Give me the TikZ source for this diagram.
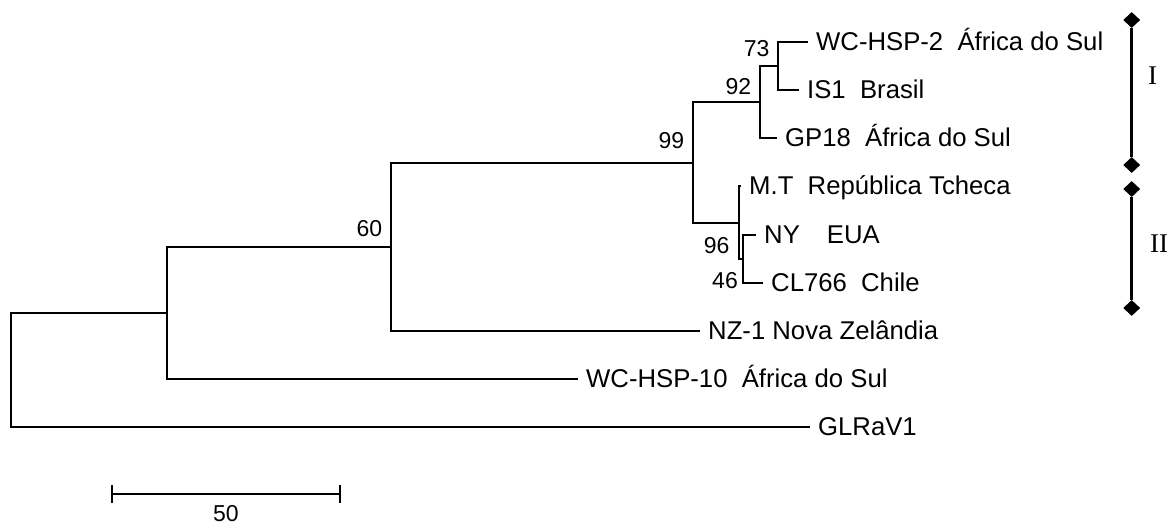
\documentclass[tikz,border=0pt]{standalone}
\usepackage{fontspec}
\setmainfont{Liberation Sans}
\newfontfamily\romfont{Liberation Serif}
\usetikzlibrary{shapes.geometric,arrows.meta}
\begin{document}
\begin{tikzpicture}[x=1pt,y=-1pt,
  branch/.style={line width=2pt},
  leaf/.style={anchor=west, inner xsep=8pt, inner ysep=0pt, text height=17pt, text depth=0pt, font=\fontsize{25.7}{30}\selectfont},
  boot/.style={inner sep=0pt, font=\fontsize{23}{27}\selectfont},
  clade/.style={line width=3pt},
  tipmark/.style={diamond, fill=black, inner sep=0pt, minimum width=17pt, minimum height=16pt},
  roman/.style={font=\romfont\fontsize{27}{32}\selectfont, inner sep=0pt},
  scalebar/.style={line width=2pt, {Bar[width=18pt]}-{Bar[width=18pt]}}]
\useasboundingbox (0,0) rectangle (1172,525);
% internal nodes
\coordinate (R) at (11,370);
\coordinate (A) at (167,313);
\coordinate (B) at (391,247);
\coordinate (C) at (692.5,162.5);
\coordinate (D) at (760,102);
\coordinate (F) at (778,66);
\coordinate (E) at (739,222.5);
\coordinate (G) at (743.3,259);
% leaves
\node[leaf] (wc2) at (808,42) {WC-HSP-2~~África do Sul};
\node[leaf] (is1) at (799,90) {IS1~~Brasil};
\node[leaf] (gp18) at (777,138) {GP18~~África do Sul};
\node[leaf] (mt) at (741,186) {M.T~~República Tcheca};
\node[leaf] (ny) at (756,235) {NY\hspace{27pt}EUA};
\node[leaf] (cl) at (763,283) {CL766~~Chile};
\node[leaf] (nz) at (700,331) {NZ-1 Nova Zelândia};
\node[leaf] (wc10) at (578,379) {WC-HSP-10~~África do Sul};
\node[leaf] (glr) at (810,427) {GLRaV1};
% branches
\draw[branch] (R) |- (A);
\draw[branch] (R) |- (glr.west);
\draw[branch] (A) |- (B);
\draw[branch] (A) |- (wc10.west);
\draw[branch] (B) |- (C);
\draw[branch] (B) |- (nz.west);
\draw[branch] (C) |- (D);
\draw[branch] (C) |- (E);
\draw[branch] (D) |- (F);
\draw[branch] (D) |- (gp18.west);
\draw[branch] (F) |- (wc2.west);
\draw[branch] (F) |- (is1.west);
\draw[branch] (E) |- (mt.west);
\draw[branch] (E) |- (G);
\draw[branch] (G) |- (ny.west);
\draw[branch] (G) |- (cl.west);
% bootstrap values
\node[boot] (b73) at (756.7,49) {73};
\node[boot] (b92) at (738.3,86.7) {92};
\node[boot] (b99) at (671.3,141) {99};
\node[boot] (b60) at (369.3,228.3) {60};
\node[boot] (b96) at (716.7,246) {96};
\node[boot] (b46) at (725,281) {46};
% clade bars
\node[tipmark] (i1) at (1131.7,20) {};
\node[tipmark] (i2) at (1131.7,165) {};
\draw[clade] (i1) -- (i2);
\node[roman] (lI) at (1152.5,76) {I};
\node[tipmark] (ii1) at (1131.7,189) {};
\node[tipmark] (ii2) at (1131.7,308) {};
\draw[clade] (ii1) -- (ii2);
\node[roman] (lII) at (1159,244) {II};
% scale bar
\coordinate (s1) at (111,494);
\coordinate (s2) at (340.7,494);
\draw[scalebar] (s1) -- (s2);
\node[boot] (sl) at (226,513.5) {50};
\end{tikzpicture}
\end{document}
